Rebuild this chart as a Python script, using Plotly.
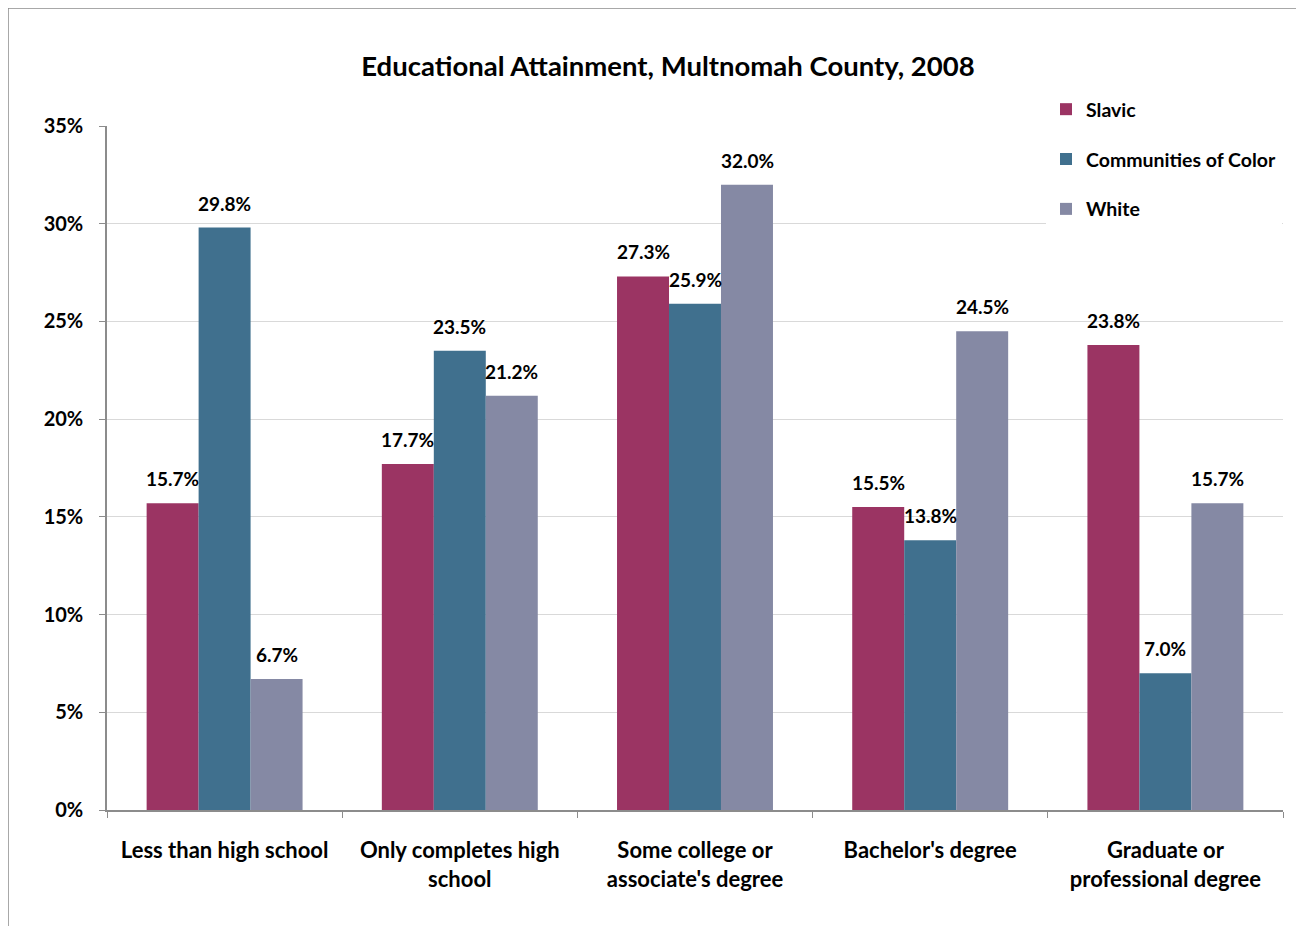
import plotly.graph_objects as go

categories = ["Less than high school", "Only completes high<br>school",
              "Some college or<br>associate's degree", "Bachelor's degree",
              "Graduate or<br>professional degree"]
slavic = [15.7, 17.7, 27.3, 15.5, 23.8]
communities = [29.8, 23.5, 25.9, 13.8, 7.0]
white = [6.7, 21.2, 32.0, 24.5, 15.7]
series_names = ["Slavic", "Communities of Color", "White"]
colors = ["#9B3463", "#40708E", "#8589A4"]
y_ticks = [0, 5, 10, 15, 20, 25, 30, 35]

FONT = "Lato"
OFF = 8  # default page body margin

fig = go.Figure()
all_series = [slavic, communities, white]
for i, (name, vals, col) in enumerate(zip(series_names, all_series, colors)):
    fig.add_trace(go.Bar(
        x=categories, y=vals, name=f"<b>{name}</b>", marker_color=col,
        marker_line_width=0, legendgroup=name,
    ))

# data labels
bar_px = 52
for i, vals in enumerate(all_series):
    for c, v in zip(categories, vals):
        fig.add_annotation(
            x=c, y=v, xref="x", yref="y", text=f"<b>{v:.1f}%</b>",
            showarrow=False, xshift=(i - 1) * bar_px, yshift=11,
            yanchor="bottom", xanchor="center",
            font=dict(family=FONT, size=19, color="#000"),
        )

W, H = 1304 - OFF, 926 - OFF
# page-coordinate plot area: x 107..1283, y 126..810
L, R = 107 - OFF, W - (1283 - OFF)
T, B = 126 - OFF, H - (810 - OFF)
pw, ph = W - L - R, H - T - B

fig.update_layout(
    width=W, height=H,
    margin=dict(l=L, r=R, t=T, b=B),
    paper_bgcolor="white", plot_bgcolor="white",
    barmode="group", bargap=0.337, bargroupgap=0,
    font=dict(family=FONT, color="#000"),
    title=dict(text="<b>Educational Attainment, Multnomah County, 2008</b>",
               x=(668 - OFF) / W, xref="container", xanchor="center",
               y=1 - (66 - OFF) / H, yref="container", yanchor="middle",
               font=dict(family=FONT, size=27.5, color="#000")),
    legend=dict(
        x=(1046 - 107) / pw, y=(810 - 90) / ph, xanchor="left", yanchor="top",
        bgcolor="white", font=dict(family=FONT, size=19.5, color="#000"),
        traceorder="grouped", tracegroupgap=21.5, itemwidth=30,
    ),
    showlegend=True,
)

fig.update_yaxes(
    range=[0, 35], tickvals=y_ticks, ticktext=[f"<b>{t}%</b>" for t in y_ticks],
    showgrid=True, gridcolor="#D9D9D9", gridwidth=1,
    showline=True, linecolor="#8C8C8C", linewidth=1.5,
    ticks="outside", ticklen=6, tickcolor="#8C8C8C",
    tickfont=dict(family=FONT, size=20, color="#000"),
    ticklabelstandoff=12, zeroline=False,
)
fig.update_xaxes(
    tickvals=categories, ticktext=[f"<b>{c}</b>" for c in categories],
    showline=True, linecolor="#8C8C8C", linewidth=1.5,
    ticks="outside", ticklen=6, tickcolor="#8C8C8C", tickson="boundaries",
    tickfont=dict(family=FONT, size=22, color="#000"),
    ticklabelstandoff=20,
)

# outer chart frame
fig.add_shape(type="rect", xref="paper", yref="paper",
              x0=(8 - 107) / pw, x1=(1304 + 30 - 107) / pw,
              y0=-(B + 30) / ph, y1=(810 - 8) / ph,
              line=dict(color="#8C8C8C", width=1.5), fillcolor="rgba(0,0,0,0)",
              layer="below")

fig.write_html("out.html")
